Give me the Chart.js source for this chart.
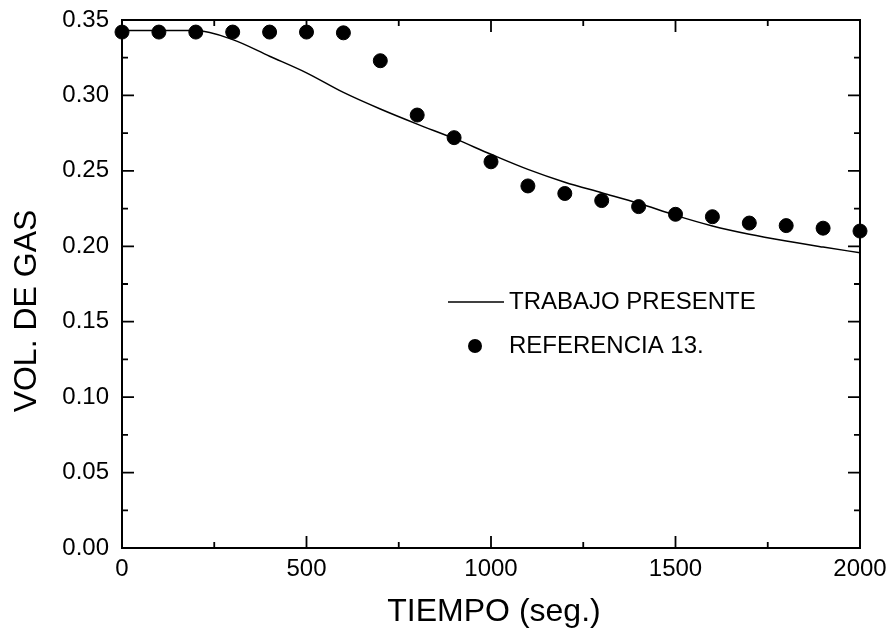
<!DOCTYPE html>
<html>
<head>
<meta charset="utf-8">
<script src="https://cdn.jsdelivr.net/npm/chart.js@4"></script>
<style>
  html, body { margin: 0; padding: 0; background: #fff; }
  #wrap { width: 892px; height: 638px; }
</style>
</head>
<body>
<div id="wrap"><canvas id="chart" width="892" height="638"></canvas></div>
<script>
// data
const tiempo = [0, 100, 200, 300, 400, 500, 600, 700, 800, 900, 1000,
                1100, 1200, 1300, 1400, 1500, 1600, 1700, 1800, 1900, 2000];
const trabajoPresente = [0.343, 0.343, 0.343, 0.337, 0.326, 0.315, 0.302, 0.291, 0.281, 0.2715, 0.261,
                         0.251, 0.2425, 0.2355, 0.2285, 0.2205, 0.2135, 0.208, 0.2035, 0.1995, 0.1957];
const referencia13 = [0.342, 0.342, 0.342, 0.342, 0.342, 0.342, 0.3415, 0.323, 0.287, 0.272, 0.256,
                      0.240, 0.235, 0.2303, 0.2263, 0.2212, 0.2196, 0.2154, 0.2137, 0.212, 0.2101];
const xTicks = [0, 500, 1000, 1500, 2000];
const yTicks = [0, 0.05, 0.10, 0.15, 0.20, 0.25, 0.30, 0.35];

const FONT = '"Liberation Sans", Arial, sans-serif';

// frame, inward ticks, axis titles and legend
const framePlugin = {
  id: 'frame',
  beforeDatasetsDraw(chart) {
    const ctx = chart.ctx;
    const a = chart.chartArea;
    const xs = chart.scales.x, ys = chart.scales.y;
    ctx.save();
    ctx.strokeStyle = '#000';
    ctx.lineWidth = 2;
    ctx.strokeRect(a.left, a.top, a.right - a.left, a.bottom - a.top);
    ctx.lineWidth = 1.8;
    ctx.beginPath();
    for (let v = 0; v <= 2000; v += 250) {
      const x = xs.getPixelForValue(v);
      const len = v % 500 === 0 ? 12 : 6;
      ctx.moveTo(x, a.bottom); ctx.lineTo(x, a.bottom - len);
      ctx.moveTo(x, a.top); ctx.lineTo(x, a.top + len);
    }
    for (let i = 0; i <= 14; i++) {
      const v = i * 0.025;
      const y = ys.getPixelForValue(v);
      const len = i % 2 === 0 ? 12 : 6;
      ctx.moveTo(a.left, y); ctx.lineTo(a.left + len, y);
      ctx.moveTo(a.right, y); ctx.lineTo(a.right - len, y);
    }
    ctx.stroke();
    ctx.restore();
  },
  afterDraw(chart) {
    const ctx = chart.ctx;
    ctx.save();
    ctx.fillStyle = '#000';
    ctx.textAlign = 'center';
    ctx.textBaseline = 'middle';
    ctx.font = '32px ' + FONT;
    ctx.fillText('TIEMPO (seg.)', 494, 612);
    ctx.translate(27, 311);
    ctx.rotate(-Math.PI / 2);
    ctx.fillText('VOL. DE GAS', 0, 0);
    ctx.restore();

    // legend
    ctx.save();
    ctx.strokeStyle = '#000';
    ctx.lineWidth = 1.5;
    ctx.beginPath();
    ctx.moveTo(448, 302); ctx.lineTo(504, 302);
    ctx.stroke();
    ctx.fillStyle = '#000';
    ctx.beginPath();
    ctx.arc(475, 346, 7, 0, Math.PI * 2);
    ctx.fill();
    ctx.font = '24px ' + FONT;
    ctx.textAlign = 'left';
    ctx.textBaseline = 'middle';
    ctx.fillText('TRABAJO PRESENTE', 509, 302);
    ctx.fillText('REFERENCIA 13.', 509, 346);
    ctx.restore();
  }
};

new Chart(document.getElementById('chart'), {
  type: 'line',
  data: {
    labels: tiempo,
    datasets: [{
      label: 'TRABAJO PRESENTE',
      data: tiempo.map((t, i) => ({ x: t, y: trabajoPresente[i] })),
      borderColor: '#000',
      borderWidth: 1.5,
      pointRadius: 0,
      cubicInterpolationMode: 'monotone',
      fill: false,
      clip: false
    }, {
      label: 'REFERENCIA 13.',
      type: 'scatter',
      data: tiempo.map((t, i) => ({ x: t, y: referencia13[i] })),
      backgroundColor: '#000',
      borderColor: '#000',
      pointRadius: 7,
      showLine: false,
      clip: false
    }]
  },
  options: {
    responsive: false,
    animation: false,
    layout: { padding: { left: 0, top: 20, right: 32, bottom: 0 } },
    plugins: { legend: { display: false }, tooltip: { enabled: false } },
    scales: {
      x: {
        type: 'linear',
        min: 0, max: 2000,
        afterBuildTicks(s) { s.ticks = xTicks.map(v => ({ value: v })); },
        afterFit(s) { s.height = 90; s.paddingRight = 0; s.paddingLeft = 0; },
        grid: { display: false, drawTicks: false },
        border: { display: false },
        ticks: {
          padding: 7,
          maxRotation: 0,
          color: '#000',
          font: { family: FONT, size: 24 },
          callback: v => String(v)
        }
      },
      y: {
        type: 'linear',
        min: 0, max: 0.35,
        afterBuildTicks(s) { s.ticks = yTicks.map(v => ({ value: v })); },
        afterFit(s) { s.width = 122; s.paddingTop = 0; s.paddingBottom = 0; },
        grid: { display: false, drawTicks: false },
        border: { display: false },
        ticks: {
          padding: 13,
          color: '#000',
          font: { family: FONT, size: 24 },
          callback: v => v.toFixed(2)
        }
      }
    }
  },
  plugins: [framePlugin]
});
</script>
</body>
</html>
